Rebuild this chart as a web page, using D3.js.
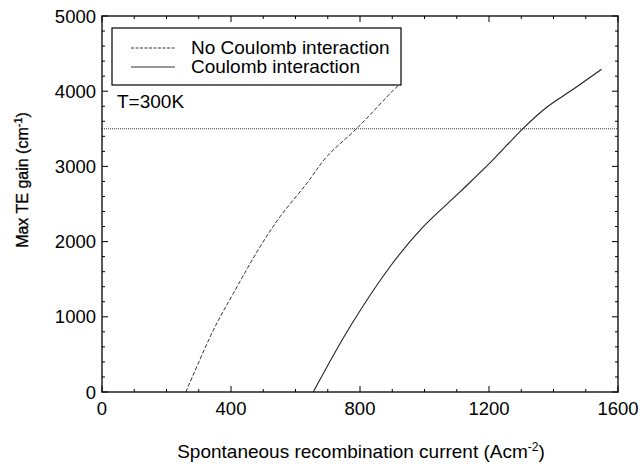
<!DOCTYPE html>
<html>
<head>
<meta charset="utf-8">
<script src="https://cdn.jsdelivr.net/npm/d3@7"></script>
<style>
  body { margin: 0; background: #fff; }
  svg text { font-family: "Liberation Sans", Arial, sans-serif; fill: #000; }
</style>
</head>
<body>
<svg id="chart" width="640" height="469"></svg>
<script>
'use strict';

// spontaneous recombination current (A/cm^2) vs max TE gain (1/cm)
var noCoulombJ    = [260, 345, 407, 490, 552, 635, 697, 790, 905, 925];
var noCoulombGain = [0, 820, 1310, 1930, 2330, 2775, 3130, 3505, 4020, 4100];
var coulombJ      = [655, 769, 893, 990, 1110, 1213, 1306, 1380, 1461, 1549];
var coulombGain   = [0, 868, 1666, 2170, 2660, 3090, 3507, 3790, 4025, 4291];
var thresholdGain = 3500;

var xTicks = [0, 400, 800, 1200, 1600];
var yTicks = [0, 1000, 2000, 3000, 4000, 5000];
var legendLabels = ['No Coulomb interaction', 'Coulomb interaction'];

var svg = d3.select('#chart');
var plotLeft = 102, plotRight = 618, plotTop = 16, plotBottom = 392;

var x = d3.scaleLinear().domain([0, 1600]).range([plotLeft, plotRight]);
var y = d3.scaleLinear().domain([0, 5000]).range([plotBottom, plotTop]);

var plot = svg.append('g');

// threshold line
plot.append('line')
    .attr('x1', x(0)).attr('x2', x(1600))
    .attr('y1', y(thresholdGain)).attr('y2', y(thresholdGain))
    .attr('stroke', '#333').attr('stroke-width', 1)
    .attr('stroke-dasharray', '1,1');

var line = d3.line()
    .x(function(d) { return x(d[0]); })
    .y(function(d) { return y(d[1]); })
    .curve(d3.curveCatmullRom.alpha(0.5));

plot.append('path')
    .datum(d3.zip(noCoulombJ, noCoulombGain))
    .attr('d', line)
    .attr('fill', 'none')
    .attr('stroke', '#333')
    .attr('stroke-width', 1)
    .attr('stroke-dasharray', '4,2');

plot.append('path')
    .datum(d3.zip(coulombJ, coulombGain))
    .attr('d', line)
    .attr('fill', 'none')
    .attr('stroke', '#222')
    .attr('stroke-width', 1.1);

// ticks on all four sides, pointing inward
var xMinor = d3.range(0, 1601, 100);
var yMinor = d3.range(0, 5001, 200);
var ticks = svg.append('g').attr('stroke', '#000').attr('stroke-width', 1);

xMinor.forEach(function(v) {
  var len = xTicks.indexOf(v) >= 0 ? 6 : 3;
  ticks.append('line').attr('x1', x(v)).attr('x2', x(v))
      .attr('y1', plotBottom).attr('y2', plotBottom - len);
  ticks.append('line').attr('x1', x(v)).attr('x2', x(v))
      .attr('y1', plotTop).attr('y2', plotTop + len);
});
yMinor.forEach(function(v) {
  var len = yTicks.indexOf(v) >= 0 ? 6 : 3;
  ticks.append('line').attr('y1', y(v)).attr('y2', y(v))
      .attr('x1', plotLeft).attr('x2', plotLeft + len);
  ticks.append('line').attr('y1', y(v)).attr('y2', y(v))
      .attr('x1', plotRight).attr('x2', plotRight - len);
});

// frame
svg.append('rect')
    .attr('x', plotLeft).attr('y', plotTop)
    .attr('width', plotRight - plotLeft).attr('height', plotBottom - plotTop)
    .attr('fill', 'none').attr('stroke', '#000').attr('stroke-width', 1.3);

// tick labels
svg.append('g').selectAll('text')
    .data(xTicks).enter().append('text')
    .attr('x', function(d) { return x(d); })
    .attr('y', 415)
    .attr('text-anchor', 'middle')
    .style('font-size', '18.5px')
    .text(function(d) { return d; });

svg.append('g').selectAll('text')
    .data(yTicks).enter().append('text')
    .attr('x', 96)
    .attr('y', function(d) { return y(d) + 6.5; })
    .attr('text-anchor', 'end')
    .style('font-size', '18.5px')
    .text(function(d) { return d; });

// axis titles
var xt = svg.append('text')
    .attr('x', 361).attr('y', 458)
    .attr('text-anchor', 'middle')
    .style('font-size', '19px');
xt.append('tspan').text('Spontaneous recombination current (Acm');
xt.append('tspan').attr('dy', -7).style('font-size', '12px').text('-2');
xt.append('tspan').attr('dy', 7).text(')');

var yt = svg.append('text')
    .attr('transform', 'translate(28,180) rotate(-90)')
    .attr('text-anchor', 'middle')
    .style('font-size', '16px')
    .style('stroke', '#000').style('stroke-width', 0.3);
yt.append('tspan').text('Max TE gain (cm');
yt.append('tspan').attr('dy', -6).style('font-size', '11px').text('-1');
yt.append('tspan').attr('dy', 6).text(')');

// legend
var legend = svg.append('g');
legend.append('rect')
    .attr('x', 112).attr('y', 28)
    .attr('width', 289).attr('height', 57)
    .attr('fill', '#fff').attr('stroke', '#000').attr('stroke-width', 1.2);

var legendRows = legend.selectAll('g.row')
    .data(legendLabels).enter().append('g')
    .attr('class', 'row')
    .attr('transform', function(d, i) { return 'translate(0,' + (i * 19) + ')'; });

legendRows.append('line')
    .attr('x1', 131).attr('x2', 175)
    .attr('y1', 48).attr('y2', 48)
    .attr('stroke', '#333').attr('stroke-width', 1)
    .attr('stroke-dasharray', function(d, i) { return i === 0 ? '3,1.5' : null; });

legendRows.append('text')
    .attr('x', 191).attr('y', 54)
    .style('font-size', '19px')
    .text(function(d) { return d; });

svg.append('text')
    .attr('x', 117).attr('y', 108)
    .style('font-size', '19px')
    .text('T=300K');
</script>
</body>
</html>
